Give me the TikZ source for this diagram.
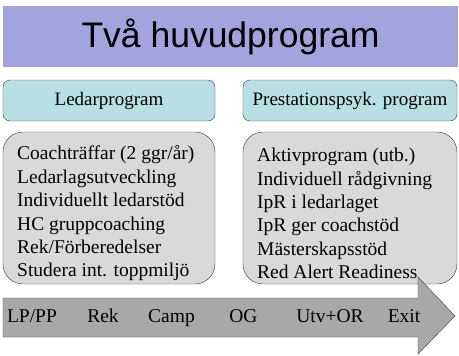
\documentclass[tikz,border=0pt]{standalone}
\usepackage{fontspec}
\setmainfont{Liberation Serif}
\newfontfamily\titlefont{Liberation Sans}
\usetikzlibrary{positioning}
\definecolor{TitleLilac}{HTML}{A3A3DE}
\definecolor{HeadTeal}{HTML}{B8E0E2}
\definecolor{ListGray}{HTML}{D9D9D9}
\definecolor{ArrowGray}{HTML}{A8A8A8}
\definecolor{EdgeGray}{HTML}{3A3A3A}

\begin{document}
\begin{tikzpicture}[x=1pt,y=-1pt,
      head/.style={draw=EdgeGray,thin,rounded corners=7pt,fill=HeadTeal,
        minimum height=41pt,inner sep=0pt,font=\fontsize{19}{23}\selectfont},
      listbox/.style={draw=EdgeGray,thin,rounded corners=20pt,fill=ListGray,
        minimum height=152pt,inner sep=0pt},
      items/.style={align=left,anchor=west,inner sep=0pt,
        font=\fontsize{19.5}{23.4}\selectfont},
      stage/.style={anchor=base,inner sep=0pt,font=\fontsize{19.5}{23}\selectfont}
    ]
      \useasboundingbox (0,0) rectangle (459,356);
      \node[fill=TitleLilac,minimum width=455pt,minimum height=61pt,inner sep=0pt,
        font=\titlefont\fontsize{35.5}{40}\selectfont] (title) at (230.5,36.5)
        {Två huvudprogram};
      \node[head,minimum width=212pt] (lp) at (109,100.5) {Ledarprogram};
      \node[head,minimum width=214pt] (pp) at (350,100.5) {Prestationspsyk. program};
      \node[listbox,minimum width=212pt] (lpbox) at (109,208) {};
      \node[listbox,minimum width=214pt] (ppbox) at (350,208) {};
      \node[items] (lplist) at (17,213.5)
        {Coachträffar (2 ggr/år)\\Ledarlagsutveckling\\Individuellt ledarstöd\\
         HC gruppcoaching\\Rek/Förberedelser\\Studera int. toppmiljö};
      \node[items] (pplist) at (257,213.5)
        {Aktivprogram (utb.)\\Individuell rådgivning\\IpR i ledarlaget\\
         IpR ger coachstöd\\Mästerskapsstöd\\Red Alert Readiness};
      % time line
      \draw[draw=EdgeGray,thin,fill=ArrowGray]
        (3,298) -- (418,298) -- (418,277) -- (455,316) -- (418,354)
        -- (418,337) -- (3,337) -- cycle;
      \node[stage] (lpp) at (32,322) {LP/PP};
      \node[stage] (rek) at (103,322) {Rek};
      \node[stage] (camp) at (171.5,322) {Camp};
      \node[stage] (og) at (243.5,322) {OG};
      \node[stage] (utv) at (330,322) {Utv+OR};
      \node[stage] (exit) at (404,322) {Exit};
    \end{tikzpicture}
\end{document}
